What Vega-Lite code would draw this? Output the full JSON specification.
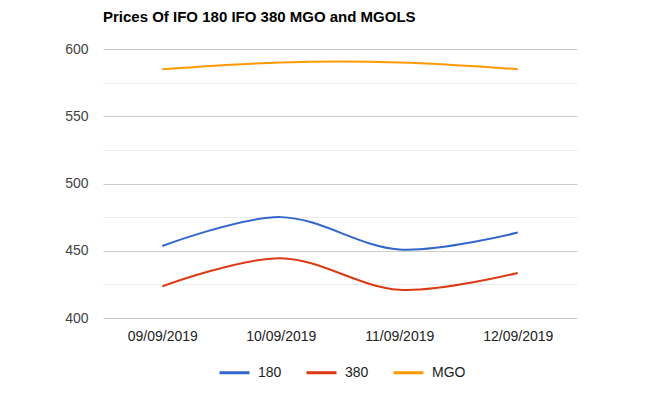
{
  "$schema": "https://vega.github.io/schema/vega-lite/v6.json",
  "width": 474,
  "height": 269,
  "autosize": {"type": "none"},
  "padding": {"left": 103, "top": 49, "right": 72, "bottom": 86},
  "background": "#ffffff",
  "title": {
    "text": "Prices Of IFO 180 IFO 380 MGO and MGOLS",
    "anchor": "start",
    "frame": "group",
    "offset": 17,
    "font": "Liberation Sans",
    "fontSize": 15,
    "fontWeight": "bold",
    "color": "#000000"
  },
  "config": {
    "view": {"stroke": null},
    "font": "Liberation Sans"
  },
  "data": {
    "values": [
      {"date": "09/09/2019", "series": "180", "price": 453.5},
      {"date": "10/09/2019", "series": "180", "price": 475},
      {"date": "11/09/2019", "series": "180", "price": 451},
      {"date": "12/09/2019", "series": "180", "price": 463.5},
      {"date": "09/09/2019", "series": "380", "price": 423.5},
      {"date": "10/09/2019", "series": "380", "price": 444.5},
      {"date": "11/09/2019", "series": "380", "price": 421},
      {"date": "12/09/2019", "series": "380", "price": 433.5},
      {"date": "09/09/2019", "series": "MGO", "price": 585},
      {"date": "10/09/2019", "series": "MGO", "price": 590},
      {"date": "11/09/2019", "series": "MGO", "price": 590},
      {"date": "12/09/2019", "series": "MGO", "price": 585}
    ]
  },
  "mark": {"type": "line", "interpolate": "catmull-rom", "strokeWidth": 2},
  "encoding": {
    "x": {
      "field": "date",
      "type": "ordinal",
      "scale": {
        "type": "point",
        "padding": 0.5,
        "domain": ["09/09/2019", "10/09/2019", "11/09/2019", "12/09/2019"]
      },
      "axis": {
        "title": null,
        "labelAngle": 0,
        "grid": false,
        "domain": false,
        "ticks": false,
        "labelPadding": 11,
        "labelFontSize": 14,
        "labelColor": "#222222",
        "labelFont": "Liberation Sans"
      }
    },
    "y": {
      "field": "price",
      "type": "quantitative",
      "scale": {"domain": [400, 600], "nice": false, "zero": false},
      "axis": {
        "title": null,
        "values": [400, 425, 450, 475, 500, 525, 550, 575, 600],
        "labelExpr": "datum.value % 50 === 0 ? datum.label : ''",
        "grid": true,
        "gridColor": {"condition": {"test": "datum.value % 50 === 0", "value": "#cccccc"}, "value": "#ebebeb"},
        "gridWidth": 1,
        "domain": false,
        "ticks": false,
        "labelPadding": 15,
        "labelFontSize": 14,
        "labelColor": "#444444",
        "labelFont": "Liberation Sans"
      }
    },
    "color": {
      "field": "series",
      "type": "nominal",
      "scale": {"domain": ["180", "380", "MGO"], "range": ["#3366cc", "#dc3912", "#ff9900"]},
      "legend": {
        "title": null,
        "orient": "none",
        "legendX": 115,
        "legendY": 307,
        "direction": "horizontal",
        "symbolType": "stroke",
        "symbolSize": 900,
        "symbolStrokeWidth": 3,
        "labelFontSize": 14,
        "labelColor": "#222222",
        "labelFont": "Liberation Sans",
        "labelOffset": 7,
        "columnPadding": 18
      }
    }
  }
}
